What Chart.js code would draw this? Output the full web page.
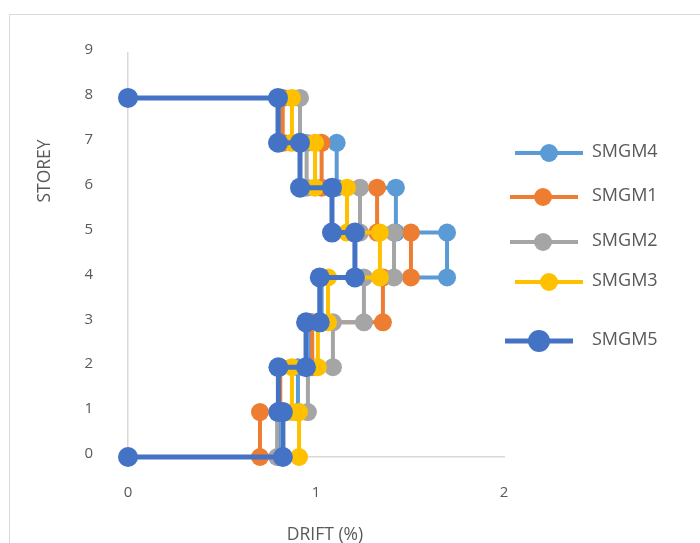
<!DOCTYPE html>
<html>
<head>
<meta charset="utf-8">
<script src="https://cdn.jsdelivr.net/npm/chart.js@4.4.1/dist/chart.umd.min.js"></script>
<style>
  html, body { margin: 0; padding: 0; background: #ffffff; }
  #wrap { width: 700px; height: 543px; position: relative; }
</style>
</head>
<body>
<div id="wrap"><canvas id="c" width="700" height="543"></canvas></div>
<script>
// Storey levels (floor 0 .. 8) and axis tick labels
const storeys = [0, 1, 2, 3, 4, 5, 6, 7, 8];
const xTicks = [0, 1, 2];
const yTicks = [0, 1, 2, 3, 4, 5, 6, 7, 8, 9];

// Inter-storey drift (%) for storeys 1..8, one array per ground motion
const driftSMGM4 = [0.80, 0.904, 0.97, 1.03, 1.697, 1.425, 1.11, 0.81];
const driftSMGM1 = [0.702, 0.81, 0.98, 1.356, 1.505, 1.325, 1.03, 0.823];
const driftSMGM2 = [0.793, 0.957, 1.09, 1.255, 1.415, 1.234, 0.95, 0.915];
const driftSMGM3 = [0.91, 0.872, 1.01, 1.064, 1.34, 1.165, 0.995, 0.872];
const driftSMGM5 = [0.824, 0.80, 0.947, 1.02, 1.207, 1.085, 0.915, 0.798];

const seriesNames = ['SMGM4', 'SMGM1', 'SMGM2', 'SMGM3', 'SMGM5'];
const seriesColors = ['#5B9BD5', '#ED7D31', '#A5A5A5', '#FFC000', '#4472C4'];

// Step profile: drift of storey i is held constant between floor i-1 and floor i
function stepProfile(drift) {
  const pts = [{ x: 0, y: storeys[0] }];
  for (let i = 0; i < drift.length; i++) {
    pts.push({ x: drift[i], y: storeys[i] });
    pts.push({ x: drift[i], y: storeys[i + 1] });
  }
  pts.push({ x: 0, y: storeys[storeys.length - 1] });
  return pts;
}

const driftBySeries = [driftSMGM4, driftSMGM1, driftSMGM2, driftSMGM3, driftSMGM5];

// First dataset is painted on top, so list them in reverse legend order
const datasets = seriesNames.map((name, i) => {
  const heavy = name === 'SMGM5';
  return {
    label: name,
    data: stepProfile(driftBySeries[i]),
    showLine: true,
    borderColor: seriesColors[i],
    backgroundColor: seriesColors[i],
    borderWidth: heavy ? 5 : 4,
    pointRadius: heavy ? 10 : 9,
    pointHoverRadius: heavy ? 10 : 9,
    pointBorderWidth: 0,
    tension: 0,
    clip: false
  };
}).reverse();

const textColor = '#595959';
const fontFamily = "'Open Sans', 'Liberation Sans', sans-serif";

// Frame, axis titles and legend
const decorations = {
  id: 'decorations',
  beforeDraw(chart) {
    const ctx = chart.ctx;
    ctx.save();
    ctx.fillStyle = '#ffffff';
    ctx.fillRect(0, 0, chart.width, chart.height);
    ctx.strokeStyle = '#d9d9d9';
    ctx.lineWidth = 1;
    ctx.beginPath();
    ctx.moveTo(9.5, chart.height);
    ctx.lineTo(9.5, 14.5);
    ctx.lineTo(chart.width, 14.5);
    ctx.stroke();
    ctx.restore();
  },
  afterDraw(chart) {
    const ctx = chart.ctx;
    ctx.save();
    ctx.fillStyle = textColor;
    ctx.font = "17.5px " + fontFamily;

    // x-axis title
    ctx.textAlign = 'center';
    ctx.textBaseline = 'alphabetic';
    ctx.fillText('DRIFT (%)', 325, 540);

    // y-axis title
    ctx.save();
    ctx.translate(45, 171);
    ctx.rotate(-Math.PI / 2);
    ctx.textBaseline = 'middle';
    ctx.fillText('STOREY', 0, 0);
    ctx.restore();

    // legend
    const rows = [
      { name: 'SMGM4', y: 153, x0: 515, x1: 583, mx: 549, r: 9, w: 4 },
      { name: 'SMGM1', y: 197, x0: 510, x1: 578, mx: 543, r: 9, w: 4 },
      { name: 'SMGM2', y: 242, x0: 510, x1: 578, mx: 543, r: 9, w: 4 },
      { name: 'SMGM3', y: 282, x0: 515, x1: 583, mx: 549, r: 9, w: 4 },
      { name: 'SMGM5', y: 341, x0: 505, x1: 573, mx: 539, r: 11, w: 5 }
    ];
    ctx.font = "18px " + fontFamily;
    ctx.textAlign = 'left';
    ctx.textBaseline = 'middle';
    rows.forEach(row => {
      const color = seriesColors[seriesNames.indexOf(row.name)];
      ctx.strokeStyle = color;
      ctx.lineWidth = row.w;
      ctx.beginPath();
      ctx.moveTo(row.x0, row.y);
      ctx.lineTo(row.x1, row.y);
      ctx.stroke();
      ctx.fillStyle = color;
      ctx.beginPath();
      ctx.arc(row.mx, row.y, row.r, 0, Math.PI * 2);
      ctx.fill();
      ctx.fillStyle = textColor;
      ctx.fillText(row.name, 592, row.y - 1);
    });
    ctx.restore();
  }
};

new Chart(document.getElementById('c'), {
  type: 'scatter',
  data: { datasets },
  options: {
    responsive: false,
    animation: false,
    events: [],
    layout: { padding: { left: 0, right: 196, top: 53, bottom: 0 } },
    plugins: {
      legend: { display: false },
      tooltip: { enabled: false }
    },
    scales: {
      x: {
        type: 'linear',
        min: xTicks[0],
        max: xTicks[xTicks.length - 1],
        afterBuildTicks(scale) { scale.ticks = xTicks.map(v => ({ value: v })); },
        afterFit(scale) { scale.height = 86; },
        grid: { display: false, drawTicks: false },
        border: { display: true, color: '#d9d9d9', width: 1.5 },
        ticks: {
          padding: 27,
          color: textColor,
          font: { family: fontFamily, size: 15 }
        }
      },
      y: {
        type: 'linear',
        min: yTicks[0],
        max: yTicks[yTicks.length - 1],
        afterBuildTicks(scale) { scale.ticks = yTicks.map(v => ({ value: v })); },
        afterFit(scale) { scale.width = 128; },
        grid: { display: false, drawTicks: false },
        border: { display: true, color: '#d9d9d9', width: 1.5 },
        ticks: {
          padding: 35,
          labelOffset: -3,
          color: textColor,
          font: { family: fontFamily, size: 15 }
        }
      }
    }
  },
  plugins: [decorations]
});
</script>
</body>
</html>
